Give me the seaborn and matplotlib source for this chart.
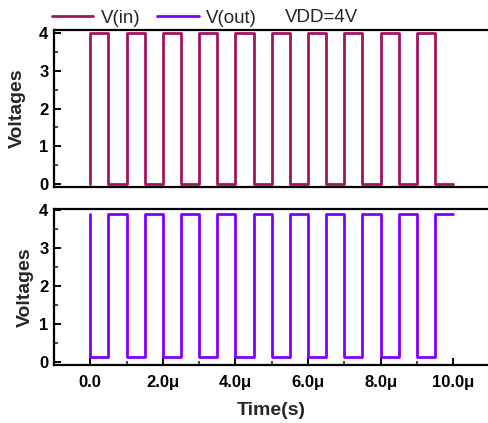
import numpy as np
import pandas as pd
import seaborn as sns
import matplotlib.pyplot as plt
from matplotlib.ticker import MultipleLocator, FuncFormatter
from matplotlib.lines import Line2D

# Edge times in microseconds (steps-post), shared by both traces
time_us = [0.0, 0.0, 0.5, 1.0, 1.5, 2.0, 2.5, 3.0, 3.5, 4.0, 4.5,
           5.0, 5.5, 6.0, 6.5, 7.0, 7.5, 8.0, 8.5, 9.0, 9.5, 10.0]
v_in = [0, 4, 0, 4, 0, 4, 0, 4, 0, 4, 0,
        4, 0, 4, 0, 4, 0, 4, 0, 4, 0, 0]
v_out = [3.9, 0.13, 3.9, 0.13, 3.9, 0.13, 3.9, 0.13, 3.9, 0.13, 3.9,
         0.13, 3.9, 0.13, 3.9, 0.13, 3.9, 0.13, 3.9, 0.13, 3.9, 3.9]
x_ticks = [0, 2, 4, 6, 8, 10]
y_ticks = [0, 1, 2, 3, 4]

c_in = "#A3145F"
c_out = "#8000FF"

sns.set_theme(style="ticks")
plt.rcParams["font.family"] = ["Liberation Sans", "DejaVu Sans"]

df_in = pd.DataFrame({"t": time_us, "v": v_in})
df_out = pd.DataFrame({"t": time_us, "v": v_out})

fig = plt.figure(figsize=(4.88, 4.23), dpi=100)
ax1 = fig.add_axes([54 / 488, 1 - 187 / 423, 1 - 54 / 488, (187 - 30) / 423])
ax2 = fig.add_axes([54 / 488, 1 - 365 / 423, 1 - 54 / 488, (365 - 209) / 423])

sns.lineplot(data=df_in, x="t", y="v", ax=ax1, color=c_in, lw=2, estimator=None,
             sort=False, drawstyle="steps-post")
sns.lineplot(data=df_out, x="t", y="v", ax=ax2, color=c_out, lw=2, estimator=None,
             sort=False, drawstyle="steps-post")

def fmt_us(v, pos):
    return "0.0" if abs(v) < 1e-9 else f"{v:.1f}\u03bc"

for ax in (ax1, ax2):
    ax.set_xlim(-1.0, 10.96)
    ax.set_yticks(y_ticks)
    ax.yaxis.set_minor_locator(MultipleLocator(0.5))
    ax.spines["right"].set_visible(False)
    for s in ("left", "top", "bottom"):
        ax.spines[s].set_linewidth(1.6)
        ax.spines[s].set_color("black")
    ax.tick_params(axis="both", which="major", direction="in", length=5, width=1.4,
                   labelsize=12, pad=4, colors="black")
    ax.tick_params(axis="both", which="minor", direction="in", length=3, width=1.2)
    ax.tick_params(axis="y", which="both", right=False)
    ax.set_ylabel("Voltages", fontsize=14, fontweight="bold")
    for lab in ax.get_yticklabels():
        lab.set_fontweight("bold")

ax1.set_ylim(-0.07, 4.07)
ax2.set_ylim(-0.07, 4.03)
ax1.yaxis.set_label_coords(-0.065, 0.5)
ax2.yaxis.set_label_coords(-0.047, 0.5)

ax1.tick_params(axis="x", which="both", bottom=False, top=False, labelbottom=False)
ax1.set_xlabel("")

ax2.set_xticks(x_ticks)
ax2.xaxis.set_minor_locator(MultipleLocator(1))
ax2.xaxis.set_major_formatter(FuncFormatter(fmt_us))
ax2.tick_params(axis="x", which="both", top=False, pad=7)
for lab in ax2.get_xticklabels():
    lab.set_fontweight("bold")
ax2.set_xlabel("Time(s)", fontsize=14, fontweight="bold", labelpad=9)

handles = [Line2D([], [], color=c_in, lw=2), Line2D([], [], color=c_out, lw=2)]
fig.legend(handles, ["V(in)", "V(out)"], loc="center left", ncol=2,
           bbox_to_anchor=(52 / 488, 1 - 18 / 423), frameon=False, fontsize=13.5,
           handlelength=2.2, handletextpad=0.4, columnspacing=0.9,
           borderpad=0, borderaxespad=0)
fig.text(285 / 488, 1 - 18 / 423, "VDD=4V", fontsize=13.5, va="center", ha="left")

fig.savefig("out.png", dpi=100)
